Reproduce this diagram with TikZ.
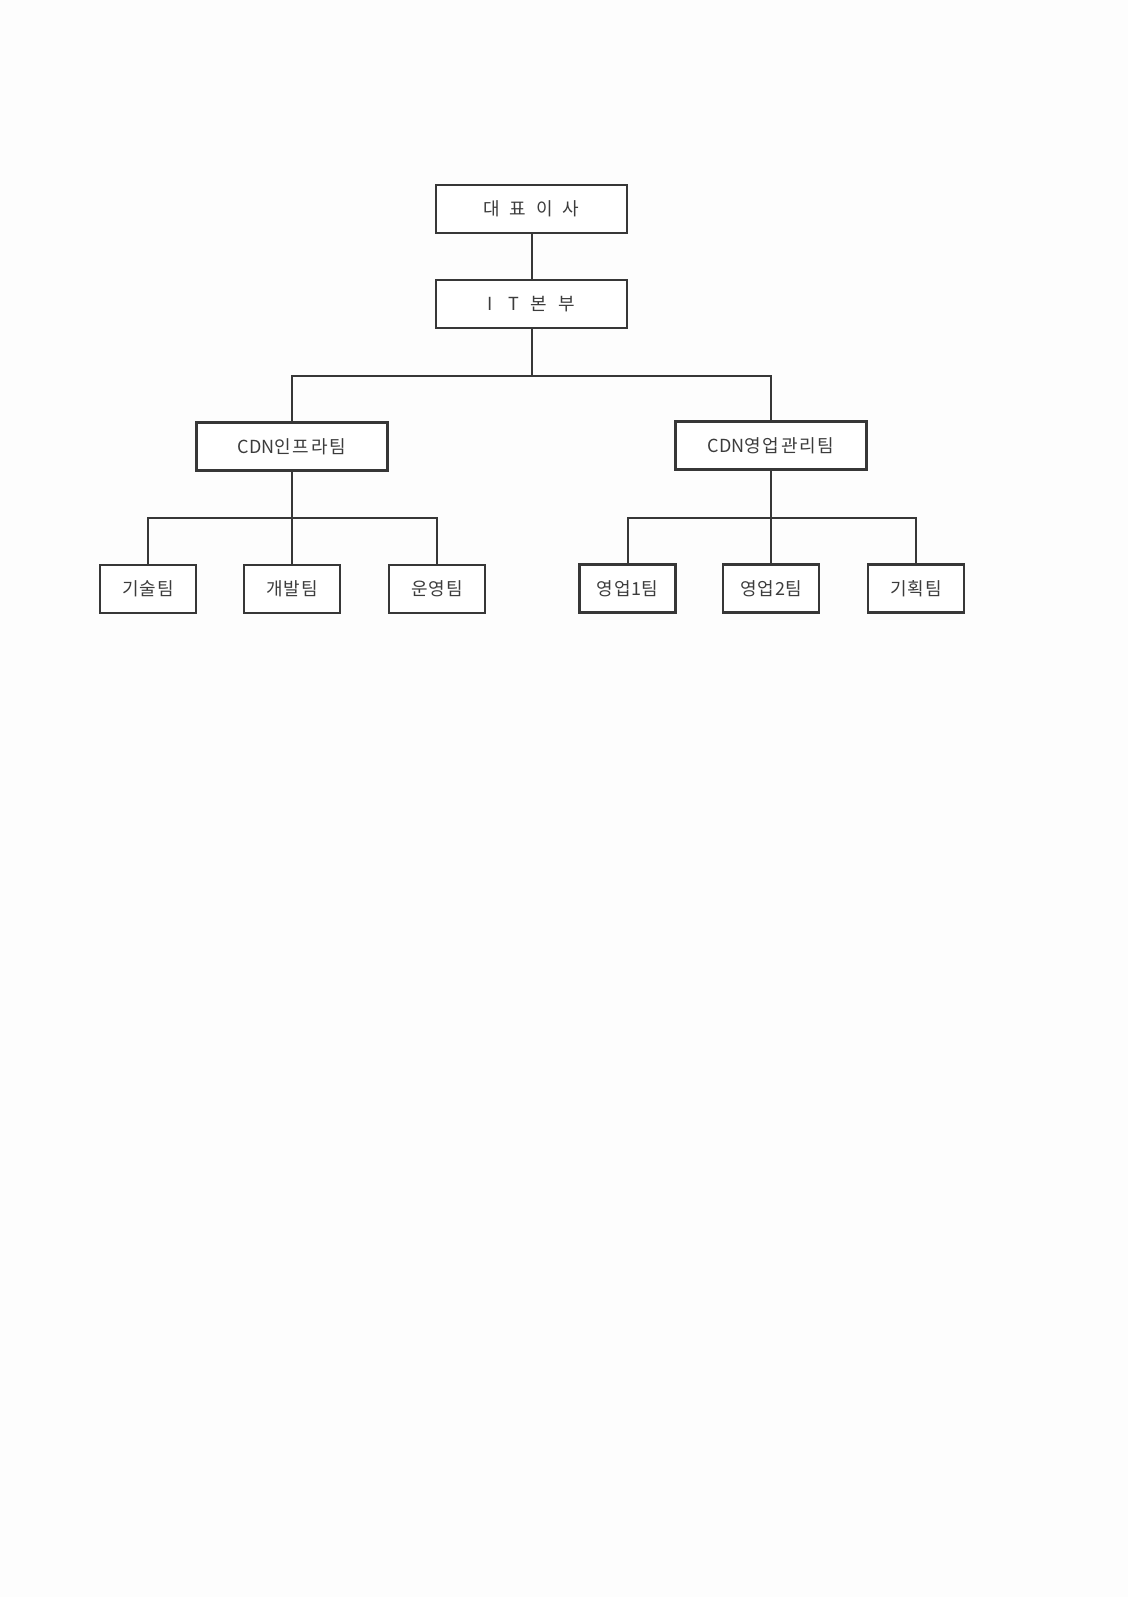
\documentclass[tikz,border=0pt]{standalone}
\usepackage{fontspec}
\setmainfont{Noto Sans CJK KR}
\begin{document}
\begin{tikzpicture}[x=1pt,y=-1pt,
  orgbox/.style={draw=linegray, line width=2.2pt, fill=white, minimum height=48pt, inner sep=0pt, text=textgray, font=\fontsize{18}{21}\selectfont},
  bigbox/.style={orgbox, minimum width=191pt},
  leafbox/.style={orgbox, minimum width=96pt},
  link/.style={draw=linegray, line width=2pt}]
\definecolor{linegray}{RGB}{55,55,55}
\definecolor{textgray}{RGB}{60,60,60}
\definecolor{paper}{RGB}{253,253,253}
\fill[paper] (0,0) rectangle (1128,1597);
\useasboundingbox (0,0) rectangle (1128,1597);
\coordinate (b1) at (531.5,376);
\coordinate (b2) at (292,518);
\coordinate (b3) at (771,518);
\node[bigbox] (ceo) at (531.5,209) {대\hspace{0.55em}표\hspace{0.55em}이\hspace{0.55em}사};
\node[bigbox] (it) at (531.5,304) {I\hspace{0.85em}T\hspace{0.65em}본\hspace{0.65em}부};
\node[bigbox] (infra) at (292,446.5) {CDN인\hspace{0.1em}프\hspace{0.1em}라\hspace{0.1em}팀};
\node[bigbox] (sales) at (771,445.5) {CDN영\hspace{0.1em}업\hspace{0.1em}관\hspace{0.1em}리\hspace{0.1em}팀};
\node[leafbox] (tech) at (148,589) {기\hspace{0.05em}술\hspace{0.05em}팀};
\node[leafbox] (dev) at (292,589) {개\hspace{0.05em}발\hspace{0.05em}팀};
\node[leafbox] (ops) at (437,589) {운\hspace{0.05em}영\hspace{0.05em}팀};
\node[leafbox] (s1) at (627.5,588.5) {영\hspace{0.05em}업\hspace{0.05em}1팀};
\node[leafbox] (s2) at (771,588.5) {영\hspace{0.05em}업\hspace{0.05em}2팀};
\node[leafbox] (plan) at (916,588.5) {기\hspace{0.05em}획\hspace{0.05em}팀};
\draw[link] (ceo) -- (it);
\draw[link] (it) -- (b1);
\draw[link] (infra.north) |- (b1) -| (sales.north);
\draw[link] (infra) -- (b2);
\draw[link] (tech.north) |- (b2) -| (ops.north);
\draw[link] (b2) -- (dev.north);
\draw[link] (sales) -- (b3);
\draw[link] (s1.north) |- (b3) -| (plan.north);
\draw[link] (b3) -- (s2.north);
\end{tikzpicture}
\end{document}
